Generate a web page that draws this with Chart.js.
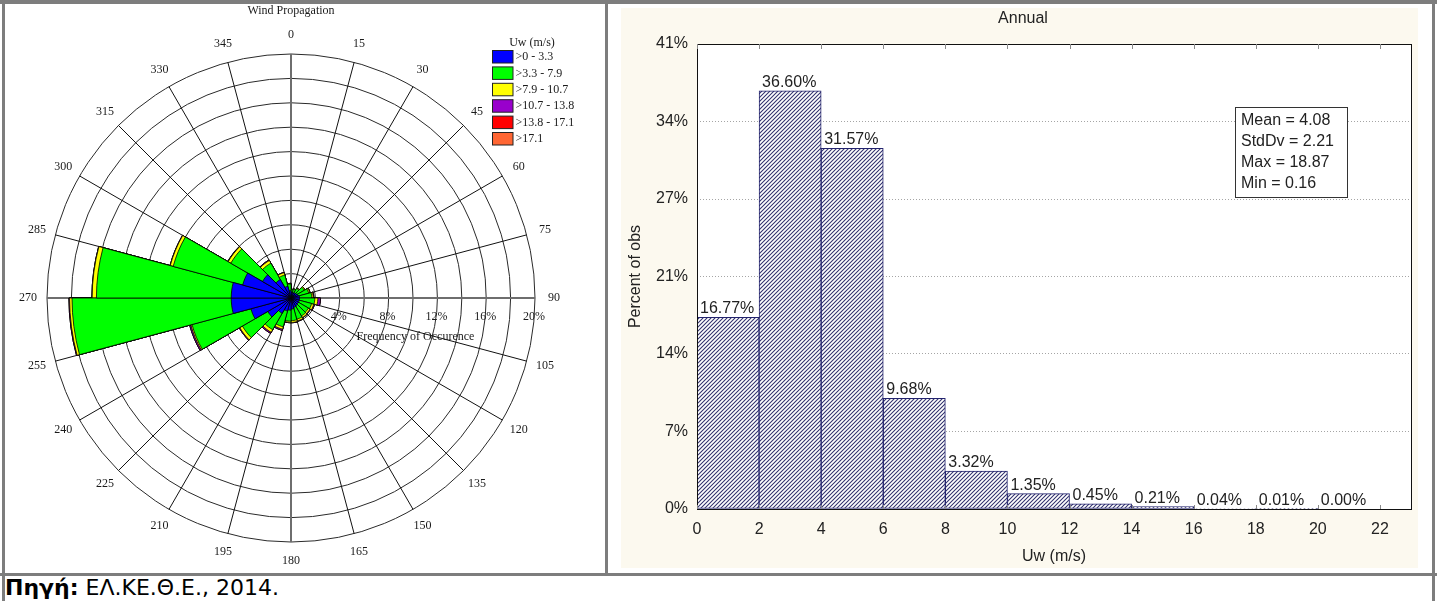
<!DOCTYPE html>
<html>
<head>
<meta charset="utf-8">
<script src="https://cdn.jsdelivr.net/npm/chart.js@4.4.1/dist/chart.umd.min.js"></script>
<style>
  html, body { margin: 0; padding: 0; background: #fff; }
  body { width: 1437px; height: 601px; position: relative; overflow: hidden; }
  .rule { position: absolute; background: #7d7d7d; }
  #roseCanvas { position: absolute; left: 0; top: 0; }
  #histBg { position: absolute; left: 621px; top: 8px; width: 797px; height: 560px; background: #fcf9ef; }
  #histCanvas { position: absolute; left: 608px; top: 5px; }
  #source { position: absolute; left: 5px; top: 575px; font-family: 'DejaVu Sans', sans-serif; font-size: 22px; line-height: normal; color: #000; white-space: nowrap; }
</style>
</head>
<body>
<div id="histBg"></div>
<canvas id="roseCanvas" width="605" height="573"></canvas>
<canvas id="histCanvas" width="824" height="568"></canvas>
<div id="source"><b>Πηγή:</b> ΕΛ.ΚΕ.Θ.Ε., 2014.</div>
<div class="rule" style="left:0;top:0;width:1437px;height:4px"></div>
<div class="rule" style="left:2px;top:0;width:3px;height:601px"></div>
<div class="rule" style="left:605px;top:0;width:3px;height:575px"></div>
<div class="rule" style="left:1432px;top:0;width:3px;height:601px"></div>
<div class="rule" style="left:0;top:573px;width:1437px;height:3px"></div>
<script>
// ---------- Wind rose data: frequency of occurrence (%) per 15° sector ----------
const directions = ['0','15','30','45','60','75','90','105','120','135','150','165',
                    '180','195','210','225','240','255','270','285','300','315','330','345'];
const speedBins = ['>0 - 3.3', '>3.3 - 7.9', '>7.9 - 10.7', '>10.7 - 13.8', '>13.8 - 17.1', '>17.1'];
const binColors = ['#0000ff', '#00ff00', '#ffff00', '#9900cc', '#ff0000', '#ff6633'];

const freqUpTo3_3   = [0.45,0.45,0.50,0.55,0.60,0.70,0.70,0.70,0.70,0.75,0.80,0.90,
                       1.00,1.10,1.45,2.20,3.40,4.90,4.90,4.10,2.70,1.75,1.00,0.60];
const freq3_3to7_9  = [0.25,0.30,0.40,0.70,0.90,1.00,1.25,1.05,0.95,0.95,1.00,0.95,
                       0.90,1.35,1.55,2.40,5.00,13.05,11.05,5.90,3.00,1.55,0.95,0.55];
const freq7_9to10_7 = [0.02,0.03,0.05,0.08,0.10,0.12,0.25,0.18,0.15,0.15,0.15,0.15,
                       0.10,0.20,0.25,0.25,0.10,0.20,0.35,0.25,0.25,0.25,0.20,0.05];
const freq10_7to13_8= [0.00,0.00,0.00,0.00,0.03,0.05,0.22,0.06,0.04,0.03,0.03,0.03,
                       0.03,0.10,0.10,0.05,0.10,0.05,0.02,0.02,0.02,0.05,0.03,0.00];
const freq13_8to17_1= [0.00,0.00,0.00,0.00,0.00,0.00,0.00,0.00,0.00,0.00,0.00,0.00,
                       0.00,0.00,0.00,0.00,0.00,0.00,0.00,0.00,0.00,0.00,0.00,0.00];
const freqAbove17_1 = [0.00,0.00,0.00,0.00,0.00,0.00,0.00,0.00,0.00,0.00,0.00,0.00,
                       0.00,0.00,0.00,0.00,0.00,0.00,0.00,0.00,0.00,0.00,0.00,0.00];
const roseRingLabels = [4, 8, 12, 16, 20];

// ---------- Histogram data ----------
const uwBinEdges = [0, 2, 4, 6, 8, 10, 12, 14, 16, 18, 20, 22];
const uwPercent  = [16.77, 36.60, 31.57, 9.68, 3.32, 1.35, 0.45, 0.21, 0.04, 0.01, 0.00];
const xTickValues = [0, 2, 4, 6, 8, 10, 12, 14, 16, 18, 20, 22];
const yTickValues = [0, 6.78, 13.57, 20.35, 27.13, 33.92, 40.7];
const yTickLabels = ['0%', '7%', '14%', '21%', '27%', '34%', '41%'];
const statsLines  = ['Mean = 4.08', 'StdDv = 2.21', 'Max = 18.87', 'Min = 0.16'];

// ================= Wind rose =================
// Stacked sectors: each speed class is drawn as the running total, smallest on top.
const speedFreqs = [freqUpTo3_3, freq3_3to7_9, freq7_9to10_7, freq10_7to13_8, freq13_8to17_1, freqAbove17_1];
const runningTotals = speedFreqs.map((_, b) =>
  directions.map((_, d) => speedFreqs.slice(0, b + 1).reduce((s, arr) => s + arr[d], 0)));

const serif = "'Liberation Serif', 'DejaVu Serif', serif";

const roseDecor = {
  id: 'roseDecor',
  afterDraw(chart) {
    const ctx = chart.ctx;
    const r = chart.scales.r;
    ctx.save();
    ctx.fillStyle = '#1a1a1a';
    ctx.textAlign = 'center';
    ctx.textBaseline = 'middle';
    ctx.font = '12px ' + serif;
    ctx.fillText('Wind Propagation', r.xCenter, 11);
    // direction labels around the rim
    directions.forEach((lab, i) => {
      const p = r.getPointPosition(i, r.drawingArea + 19);
      ctx.fillText(lab, p.x, p.y);
    });
    // ring labels along the east axis
    roseRingLabels.forEach(v => {
      const x = r.xCenter + r.getDistanceFromCenterForValue(v);
      ctx.fillText(v + '%', x - 1, r.yCenter + 18.5);
    });
    ctx.fillText('Frequency of Occurence', r.xCenter + r.getDistanceFromCenterForValue(10.2), r.yCenter + 38.5);
    // legend
    ctx.fillText('Uw (m/s)', 532, 43);
    ctx.textAlign = 'left';
    speedBins.forEach((lab, i) => {
      const y = 50.5 + i * 16.4;
      ctx.fillStyle = binColors[i];
      ctx.fillRect(492.5, y, 20.5, 12.5);
      ctx.strokeStyle = '#222';
      ctx.lineWidth = 1;
      ctx.strokeRect(492.5, y, 20.5, 12.5);
      ctx.fillStyle = '#1a1a1a';
      ctx.fillText(lab, 515.5, y + 6.5);
    });
    ctx.restore();
  }
};

new Chart(document.getElementById('roseCanvas'), {
  type: 'polarArea',
  data: {
    labels: directions,
    datasets: runningTotals.map((data, b) => ({
      label: speedBins[b],
      data,
      backgroundColor: binColors[b],
      borderColor: '#000',
      borderWidth: 0.8
    }))
  },
  options: {
    responsive: false,
    animation: false,
    layout: { padding: { left: 47, top: 54, right: 70, bottom: 31 } },
    plugins: { legend: { display: false }, tooltip: { enabled: false } },
    scales: {
      r: {
        min: 0,
        max: 20,
        startAngle: 0,
        ticks: { stepSize: 2, display: false },
        pointLabels: { display: false },
        grid: { circular: true, color: '#2a2a2a', lineWidth: 1 },
        angleLines: {
          display: true,
          color: c => (c.index % 6 === 0 ? '#6e6e6e' : '#111'),
          lineWidth: c => (c.index % 6 === 0 ? 2 : 1)
        }
      }
    }
  },
  plugins: [roseDecor]
});

// ================= Histogram =================
const sans = "'Liberation Sans', Arial, sans-serif";

function hatchPattern() {
  const tile = document.createElement('canvas');
  tile.width = 4; tile.height = 4;
  const t = tile.getContext('2d');
  t.fillStyle = '#ffffff';
  t.fillRect(0, 0, 4, 4);
  t.strokeStyle = '#30306c';
  t.lineWidth = 1.05;
  t.beginPath();
  t.moveTo(0, 4); t.lineTo(4, 0);
  t.moveTo(-1, 1); t.lineTo(1, -1);
  t.moveTo(3, 5); t.lineTo(5, 3);
  t.stroke();
  return t.createPattern(tile, 'repeat');
}

const histDecor = {
  id: 'histDecor',
  beforeDraw(chart) {
    const { ctx, chartArea: a } = chart;
    ctx.save();
    ctx.fillStyle = '#ffffff';
    ctx.fillRect(a.left, a.top, a.right - a.left, a.bottom - a.top);
    ctx.restore();
  },
  afterDatasetsDraw(chart) {
    const { ctx, chartArea: a } = chart;
    const xs = chart.scales.x;
    ctx.save();
    // plot frame
    ctx.strokeStyle = '#111';
    ctx.lineWidth = 1;
    ctx.strokeRect(Math.round(a.left) + 0.5, Math.round(a.top) + 0.5,
                   Math.round(a.right - a.left), Math.round(a.bottom - a.top));
    // inner tick marks on top and bottom edges
    ctx.strokeStyle = '#8a8a8a';
    xTickValues.forEach(v => {
      const x = Math.round(xs.getPixelForValue(v)) + 0.5;
      ctx.beginPath();
      ctx.moveTo(x, a.top); ctx.lineTo(x, a.top + 5);
      ctx.moveTo(x, a.bottom); ctx.lineTo(x, a.bottom - 4);
      ctx.stroke();
    });
    // value labels above bars
    ctx.fillStyle = '#222';
    ctx.font = '16px ' + sans;
    ctx.textAlign = 'left';
    ctx.textBaseline = 'alphabetic';
    chart.getDatasetMeta(0).data.forEach((bar, i) => {
      const left = bar.x - bar.width / 2;
      ctx.fillText(uwPercent[i].toFixed(2) + '%', left + 3, bar.y - 4);
    });
    // title
    ctx.textAlign = 'center';
    ctx.textBaseline = 'middle';
    ctx.fillText('Annual', 415, 13.5);
    // statistics box
    const bx = a.right - 176, by = a.top + 63;
    ctx.fillStyle = '#fff';
    ctx.fillRect(bx, by, 112, 90);
    ctx.strokeStyle = '#333';
    ctx.strokeRect(bx + 0.5, by + 0.5, 112, 90);
    ctx.fillStyle = '#222';
    ctx.textAlign = 'left';
    statsLines.forEach((s, i) => ctx.fillText(s, bx + 6, by + 14 + i * 20.7));
    ctx.restore();
  }
};

new Chart(document.getElementById('histCanvas'), {
  type: 'bar',
  data: {
    datasets: [{
      label: 'Percent of obs',
      data: uwPercent.map((p, i) => ({ x: (uwBinEdges[i] + uwBinEdges[i + 1]) / 2, y: p })),
      backgroundColor: hatchPattern(),
      borderColor: '#23236e',
      borderWidth: 1,
      borderSkipped: false,
      barPercentage: 1,
      categoryPercentage: 1
    }]
  },
  options: {
    responsive: false,
    animation: false,
    layout: { padding: { top: 39, right: 21, left: 0, bottom: 0 } },
    plugins: { legend: { display: false }, tooltip: { enabled: false }, title: { display: false } },
    scales: {
      x: {
        type: 'linear',
        offset: false,
        min: 0,
        max: 23,
        afterBuildTicks: s => { s.ticks = xTickValues.map(v => ({ value: v })); },
        afterFit: s => { s.height = 64; },
        grid: { display: false },
        border: { display: false },
        ticks: { padding: 3, color: '#222', font: { family: sans, size: 16 }, autoSkip: false, maxRotation: 0 },
        title: { display: true, text: 'Uw (m/s)', color: '#222', font: { family: sans, size: 16 }, padding: { top: 0, bottom: 7 } }
      },
      y: {
        type: 'linear',
        min: 0,
        max: 40.7,
        afterBuildTicks: s => { s.ticks = yTickValues.map(v => ({ value: v })); },
        afterFit: s => { s.width = 89; },
        grid: { display: true, drawTicks: false, color: '#a5a5a5', lineWidth: 1 },
        border: { display: false, dash: [1, 2] },
        ticks: { padding: 9, color: '#222', font: { family: sans, size: 16 }, callback: (v, i) => yTickLabels[i] },
        title: { display: true, text: 'Percent of obs', color: '#222', font: { family: sans, size: 16 }, padding: { top: 18, bottom: 0 } }
      }
    }
  },
  plugins: [histDecor]
});
</script>
</body>
</html>
